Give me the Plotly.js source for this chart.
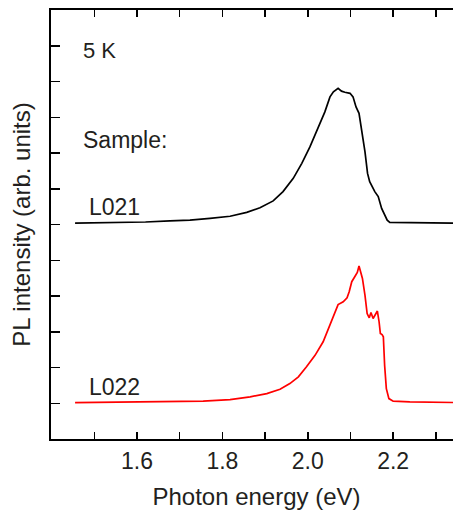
<!DOCTYPE html>
<html>
<head>
<meta charset="utf-8">
<script src="https://cdn.plot.ly/plotly-3.0.1.min.js"></script>
<style>html,body{margin:0;padding:0;overflow:hidden;background:#fff;}</style>
</head>
<body>
<div id="chart" style="width:462px;height:515px;"></div>
<script>
// Photon energy (eV) and PL intensity (arb. units, offset traces)
var energyL021 = [1.455, 1.55, 1.62, 1.677, 1.724, 1.771, 1.818, 1.857, 1.888, 1.919, 1.942, 1.966, 1.986, 2.005, 2.024, 2.040, 2.052, 2.060, 2.071, 2.079, 2.087, 2.099, 2.106, 2.113, 2.120, 2.126, 2.134, 2.140, 2.145, 2.157, 2.165, 2.173, 2.181, 2.186, 2.192, 2.239, 2.30, 2.35];
var intensityL021 = [6.04, 6.05, 6.07, 6.10, 6.12, 6.17, 6.23, 6.34, 6.47, 6.66, 6.92, 7.29, 7.71, 8.17, 8.69, 9.15, 9.57, 9.71, 9.81, 9.73, 9.70, 9.67, 9.57, 9.29, 9.11, 8.69, 8.03, 7.43, 7.20, 6.92, 6.78, 6.45, 6.26, 6.12, 6.06, 6.06, 6.05, 6.04];

var energyL022 = [1.455, 1.60, 1.677, 1.755, 1.818, 1.865, 1.904, 1.935, 1.958, 1.978, 1.997, 2.017, 2.036, 2.052, 2.063, 2.071, 2.083, 2.092, 2.097, 2.103, 2.110, 2.116, 2.120, 2.124, 2.128, 2.134, 2.139, 2.144, 2.148, 2.153, 2.159, 2.163, 2.167, 2.170, 2.174, 2.177, 2.180, 2.184, 2.190, 2.200, 2.239, 2.35];
var intensityL022 = [1.02, 1.03, 1.04, 1.06, 1.10, 1.18, 1.27, 1.39, 1.55, 1.74, 2.02, 2.34, 2.72, 3.18, 3.51, 3.76, 3.84, 3.95, 4.12, 4.40, 4.54, 4.66, 4.84, 4.63, 4.49, 4.02, 3.51, 3.39, 3.54, 3.37, 3.48, 3.58, 3.28, 2.95, 2.92, 2.86, 2.06, 1.41, 1.13, 1.06, 1.04, 1.02];

var xTickVals = [1.5, 1.6, 1.7, 1.8, 1.9, 2.0, 2.1, 2.2, 2.3];
var xTickText = ['', '1.6', '', '1.8', '', '2.0', '', '2.2', ''];

var sampleLabels = ['L021', 'L022'];
var labelX = [1.483, 1.484];
var labelY = [6.49, 1.46];

var textColor = '#231f20';
var fontFam = 'Liberation Sans, Arial, sans-serif';

var traces = [
  {x: energyL021, y: intensityL021, mode: 'lines', line: {color: '#000000', width: 1.7}, hoverinfo: 'skip'},
  {x: energyL022, y: intensityL022, mode: 'lines', line: {color: '#ff0000', width: 1.7}, hoverinfo: 'skip'}
];

var annotations = [
  {x: 1.469, y: 10.86, xref: 'x', yref: 'y', text: '5 K', showarrow: false, xanchor: 'left', yanchor: 'middle', font: {size: 22, color: textColor, family: fontFam}},
  {x: 1.470, y: 8.36, xref: 'x', yref: 'y', text: 'Sample:', showarrow: false, xanchor: 'left', yanchor: 'middle', font: {size: 23, color: textColor, family: fontFam}}
];
for (var i = 0; i < sampleLabels.length; i++) {
  annotations.push({x: labelX[i], y: labelY[i], xref: 'x', yref: 'y', text: sampleLabels[i], showarrow: false, xanchor: 'left', yanchor: 'middle', font: {size: 23, color: textColor, family: fontFam}});
}

var layout = {
  width: 462, height: 515,
  margin: {l: 51, r: 0, t: 10, b: 76},
  paper_bgcolor: '#ffffff', plot_bgcolor: '#ffffff',
  showlegend: false,
  font: {family: fontFam, color: textColor},
  xaxis: {
    range: [1.3986, 2.3612],
    tickmode: 'array', tickvals: xTickVals, ticktext: xTickText,
    ticks: 'inside', ticklen: 7, tickwidth: 1.5, tickcolor: '#000',
    showline: true, linecolor: '#000', linewidth: 2, mirror: 'ticks',
    showgrid: false, zeroline: false,
    tickfont: {size: 23, color: textColor, family: fontFam},
    title: {text: 'Photon energy (eV)', font: {size: 24, color: textColor, family: fontFam}, standoff: 16}
  },
  yaxis: {
    range: [0, 12],
    tickmode: 'linear', tick0: 0, dtick: 1,
    ticks: 'inside', ticklen: 9, tickwidth: 1.5, tickcolor: '#000',
    showticklabels: false,
    showline: true, linecolor: '#000', linewidth: 2, mirror: 'ticks',
    showgrid: false, zeroline: false,
    title: {text: 'PL intensity (arb. units)', font: {size: 24, color: textColor, family: fontFam}, standoff: 12}
  },
  annotations: annotations
};

Plotly.newPlot('chart', traces, layout, {staticPlot: true, displayModeBar: false});
</script>
</body>
</html>
